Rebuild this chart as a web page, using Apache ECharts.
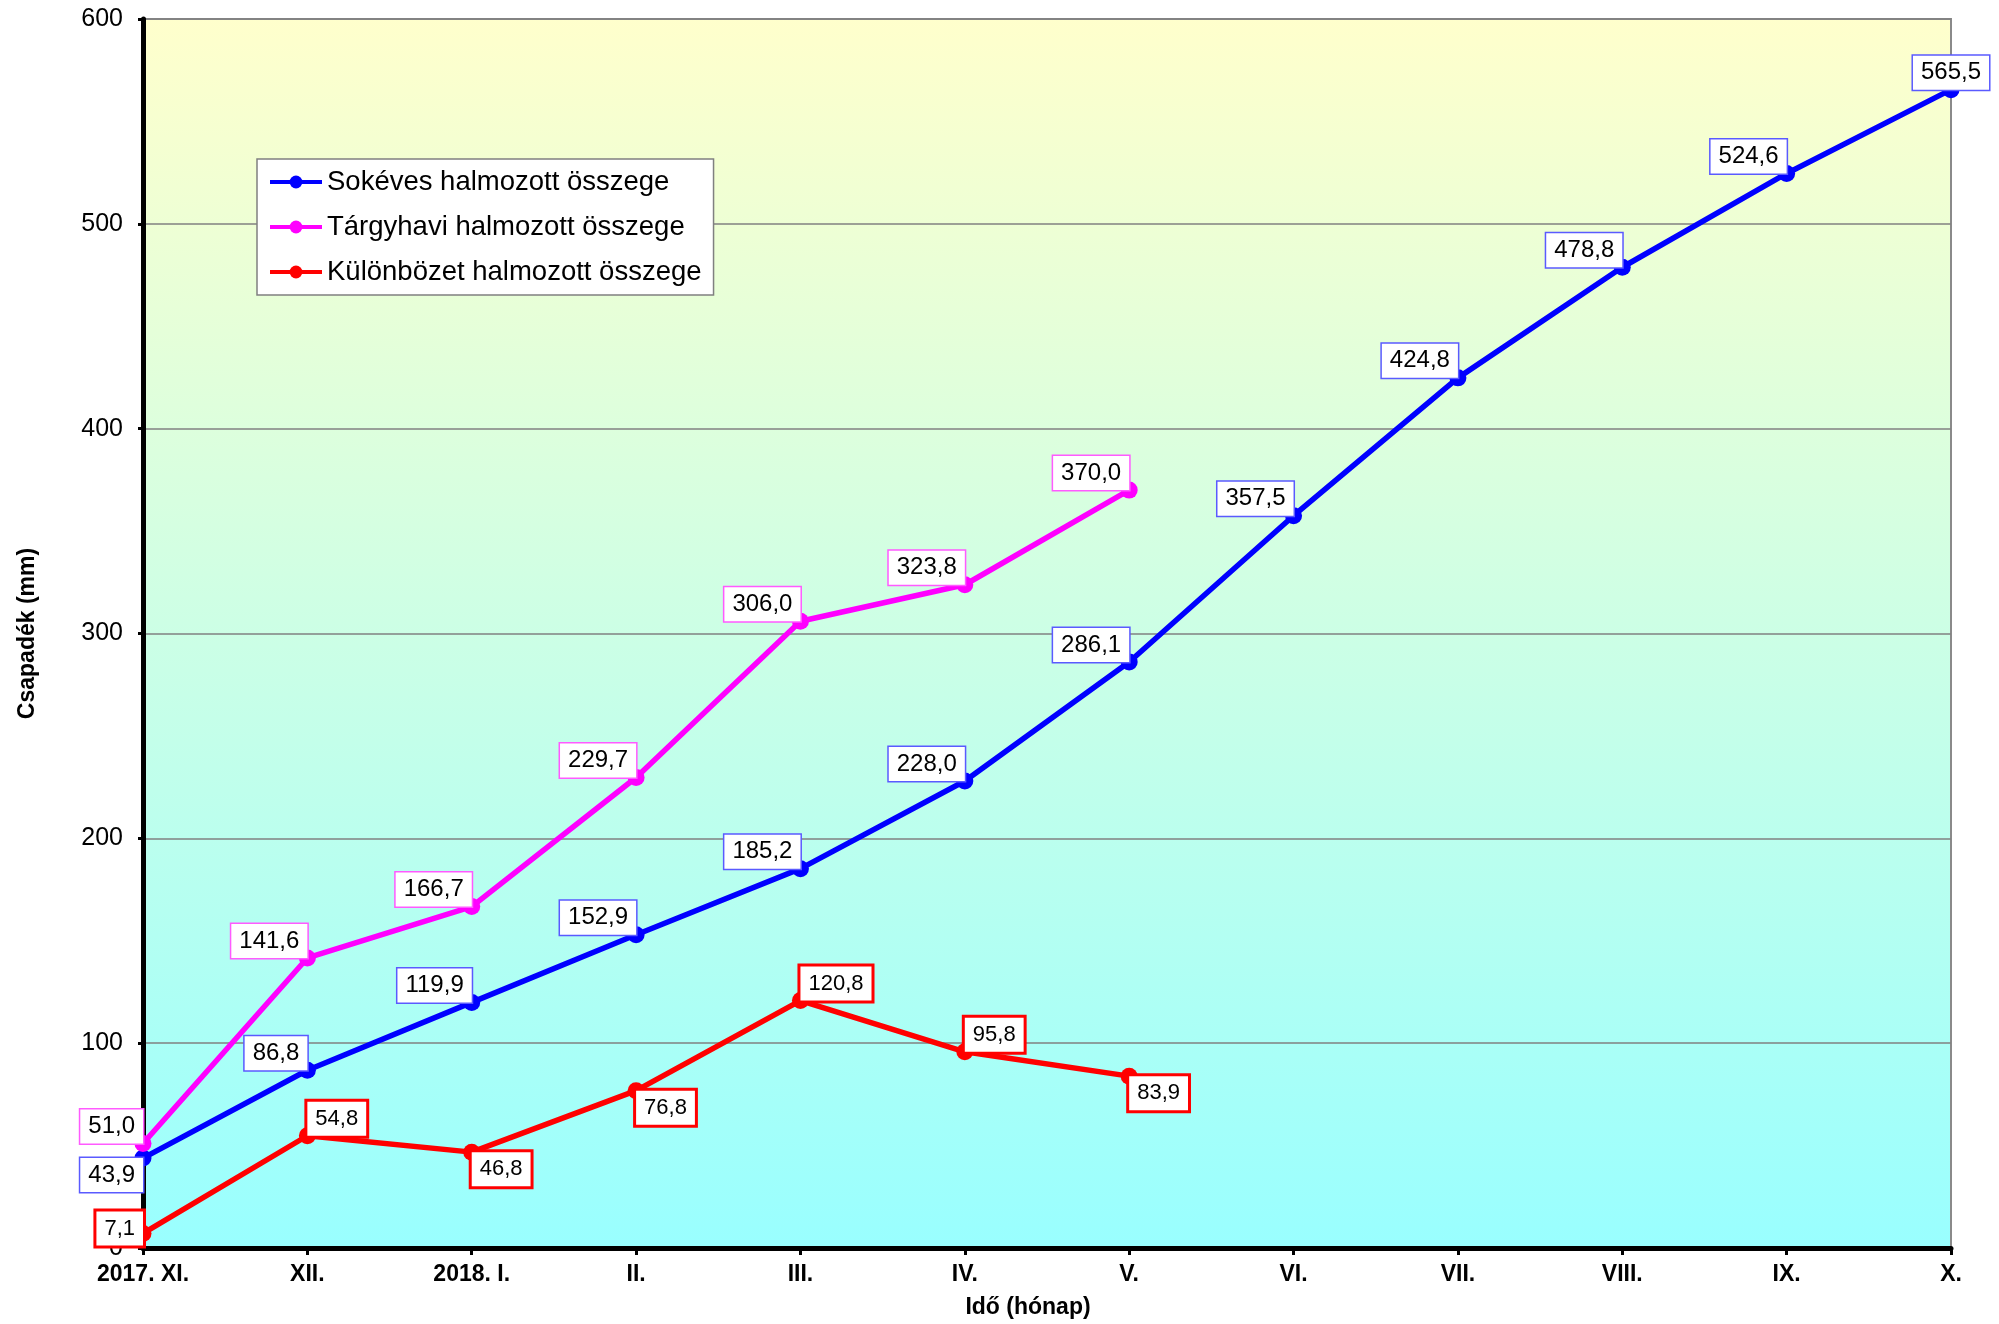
<!DOCTYPE html>
<html><head><meta charset="utf-8">
<script src="https://cdn.jsdelivr.net/npm/echarts@6/dist/echarts.min.js"></script>
<style>html,body{margin:0;padding:0;background:#fff}#c{width:1999px;height:1324px}</style>
</head><body><div id="c"></div>
<script>
var categories = ['2017. XI.','XII.','2018. I.','II.','III.','IV.','V.','VI.','VII.','VIII.','IX.','X.'];
var sokeves = [43.9, 86.8, 119.9, 152.9, 185.2, 228.0, 286.1, 357.5, 424.8, 478.8, 524.6, 565.5];
var targyhavi = [51.0, 141.6, 166.7, 229.7, 306.0, 323.8, 370.0];
var kulonbozet = [7.1, 54.8, 46.8, 76.8, 120.8, 95.8, 83.9];
var yTicks = [0, 100, 200, 300, 400, 500, 600];

var FONT = '"Liberation Sans", Arial, sans-serif';
function fmt(v){ return v.toFixed(1).replace('.', ','); }

// label anchor per point: [align, verticalAlign, dy]
var blueAnchor = [['right','top',0],['right','bottom',0],['right','bottom',0],['right','bottom',0],['right','bottom',0],['right','bottom',0],['right','bottom',0],['right','bottom',0],['right','bottom',0],['right','bottom',0],['right','bottom',0],['center','bottom',0]];
var magAnchor = [['right','bottom',0],['right','bottom',0],['right','bottom',0],['right','bottom',0],['right','bottom',0],['right','bottom',0],['right','bottom',0]];
var redAnchor = [['right','middle',-5],['left','bottom',0],['left','top',0],['left','top',0],['left','bottom',0],['left','bottom',0],['left','top',0]];

function build(values, anchors){
  return values.map(function(v, i){
    return {value: v, label: {align: anchors[i][0], verticalAlign: anchors[i][1], offset: [0, anchors[i][2]]}};
  });
}
function labelStyle(border, bw, fs, pad){
  return {show: true, position: ['50%','50%'], formatter: function(p){ return fmt(p.value); },
    color: '#000', fontFamily: FONT, fontSize: fs, lineHeight: fs + 2,
    backgroundColor: '#fff', borderColor: border, borderWidth: bw, padding: pad};
}

var chart = echarts.init(document.getElementById('c'));
chart.setOption({
  animation: false,
  backgroundColor: '#fff',
  grid: {left: 143, right: 48, top: 19, bottom: 74, show: true,
    borderColor: '#8a8a8a', borderWidth: 2,
    backgroundColor: new echarts.graphic.LinearGradient(0, 0, 0, 1, [
      {offset: 0, color: '#FFFFCC'}, {offset: 1, color: '#99FFFF'}])},
  legend: {
    orient: 'vertical', left: 257, top: 159,
    backgroundColor: '#fff', borderColor: '#808080', borderWidth: 1.5,
    padding: [9, 12, 9, 11], itemGap: 17, itemWidth: 52, itemHeight: 16,
    lineStyle: {width: 4},
    textStyle: {fontFamily: FONT, fontSize: 27.5, color: '#000'},
    data: ['Sokéves halmozott összege', 'Tárgyhavi halmozott összege', 'Különbözet halmozott összege']
  },
  xAxis: {
    type: 'category', data: categories, boundaryGap: false,
    name: 'Idő (hónap)', nameLocation: 'middle', nameGap: 48,
    nameTextStyle: {fontFamily: FONT, fontSize: 23, fontWeight: 'bold', color: '#000', padding: [0, 38, 0, 0]},
    axisLine: {lineStyle: {color: '#000', width: 5}},
    axisTick: {show: true, length: 7, lineStyle: {color: '#000', width: 3}},
    axisLabel: {fontFamily: FONT, fontSize: 23, fontWeight: 'bold', color: '#000', margin: 15},
    splitLine: {show: false}
  },
  yAxis: {
    type: 'value', min: 0, max: 600, interval: 100,
    name: 'Csapadék (mm)', nameLocation: 'middle', nameGap: 104,
    nameTextStyle: {fontFamily: FONT, fontSize: 23, fontWeight: 'bold', color: '#000'},
    axisLine: {show: true, lineStyle: {color: '#000', width: 5}},
    axisTick: {show: true, length: 5, lineStyle: {color: '#000', width: 3}},
    axisLabel: {fontFamily: FONT, fontSize: 25, color: '#000', margin: 20,
      formatter: function(v){ return yTicks.indexOf(v) >= 0 ? String(v) : ''; }},
    splitLine: {show: true, lineStyle: {color: '#808080', width: 1.5}}
  },
  series: [
    {name: 'Sokéves halmozott összege', type: 'line', data: build(sokeves, blueAnchor),
     symbol: 'circle', symbolSize: 17, z: 3,
     lineStyle: {color: '#0000FF', width: 5.5}, itemStyle: {color: '#0000FF'},
     label: labelStyle('#5a5aff', 1.5, 24, [4, 8])},
    {name: 'Tárgyhavi halmozott összege', type: 'line', data: build(targyhavi, magAnchor),
     symbol: 'circle', symbolSize: 17, z: 4,
     lineStyle: {color: '#FF00FF', width: 5.5}, itemStyle: {color: '#FF00FF'},
     label: labelStyle('#ff5aff', 1.5, 24, [4, 8])},
    {name: 'Különbözet halmozott összege', type: 'line', data: build(kulonbozet, redAnchor),
     symbol: 'circle', symbolSize: 17, z: 5,
     lineStyle: {color: '#FF0000', width: 5.5}, itemStyle: {color: '#FF0000'},
     label: labelStyle('#FF0000', 3, 22, [5, 8])}
  ]
});
</script></body></html>
